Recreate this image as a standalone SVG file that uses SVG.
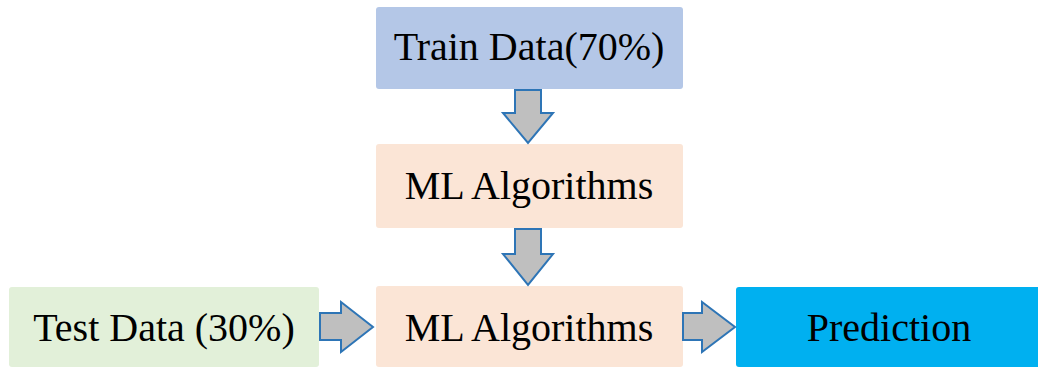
<svg xmlns="http://www.w3.org/2000/svg" width="1038" height="367" viewBox="0 0 1038 367">
  <style>
    .box { stroke: none; }
    .lbl { font-family: "Liberation Serif", "Times New Roman", serif; font-size: 40px; fill: #000; text-anchor: middle; }
    .arrow { fill: #BFBFBF; stroke: #2E75B6; stroke-width: 2; stroke-linejoin: miter; }
  </style>
  <rect width="1038" height="367" fill="#FFFFFF"/>

  <g id="train">
    <rect class="box" x="376" y="7" width="307" height="82" rx="3" fill="#B4C7E7"/>
    <text class="lbl" x="529" y="60">Train Data(70%)</text>
  </g>

  <g id="ml-top">
    <rect class="box" x="376" y="144" width="307" height="84" rx="3" fill="#FBE5D6"/>
    <text class="lbl" x="529" y="199">ML Algorithms</text>
  </g>

  <g id="ml-bottom">
    <rect class="box" x="376" y="286" width="307" height="81" rx="3" fill="#FBE5D6"/>
    <text class="lbl" x="529" y="341">ML Algorithms</text>
  </g>

  <g id="test">
    <rect class="box" x="9" y="287" width="310" height="80" rx="3" fill="#E2F0D9"/>
    <text class="lbl" x="164" y="341">Test Data (30%)</text>
  </g>

  <g id="prediction">
    <rect class="box" x="736" y="287" width="305" height="80" rx="3" fill="#00B0F0"/>
    <text class="lbl" x="889" y="341">Prediction</text>
  </g>

  <g id="connectors">
    <!-- block arrow: Train Data -> ML Algorithms -->
    <path class="arrow" d="M515,90 H541 V113 H553 L528,143 L503,113 H515 Z"/>
    <!-- block arrow: ML Algorithms -> ML Algorithms -->
    <path class="arrow" d="M515,229 H541 V254 H553 L528,285 L503,254 H515 Z"/>
    <!-- block arrow: Test Data -> ML Algorithms -->
    <path class="arrow" d="M320,313 V340 H341 V352 L373,327 L341,302 V313 Z"/>
    <!-- block arrow: ML Algorithms -> Prediction -->
    <path class="arrow" d="M683,313 V340 H702 V352 L735,327 L702,302 V313 Z"/>
  </g>
</svg>
